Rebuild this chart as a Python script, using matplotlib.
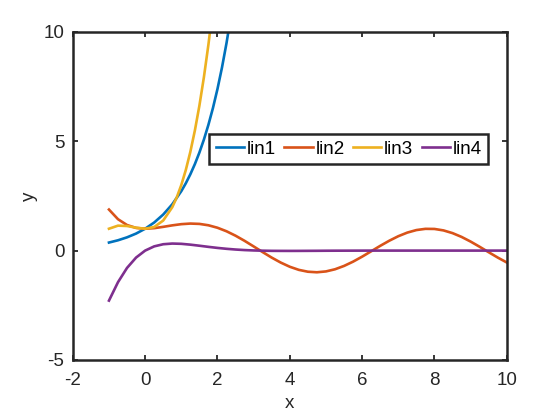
import matplotlib
matplotlib.use("Agg")
import matplotlib.pyplot as plt

plt.rcParams['font.family'] = ['Liberation Sans', 'DejaVu Sans']

# lin1 samples
x1 = [-1, -0.75, -0.5, -0.25, 0, 0.25, 0.5, 0.75, 1, 1.125, 1.25, 1.375, 1.5,
      1.625, 1.75, 1.875, 2, 2.125, 2.25, 2.375, 2.5]
y1 = [0.368, 0.472, 0.607, 0.779, 1.0, 1.284, 1.649, 2.117, 2.718, 3.080, 3.490,
      3.955, 4.482, 5.078, 5.755, 6.521, 7.389, 8.373, 9.488, 10.751, 12.182]

# lin3 samples
x3 = [-1, -0.75, -0.5, -0.25, 0, 0.25, 0.5, 0.75, 0.875, 1, 1.125, 1.25, 1.375,
      1.5, 1.625, 1.75, 1.875, 2]
y3 = [1.0, 1.141, 1.125, 1.047, 1.0, 1.078, 1.375, 1.984, 2.436, 3.0, 3.689,
      4.516, 5.490, 6.625, 7.931, 9.422, 11.107, 13.0]

# lin2 / lin4 samples
x24 = [-1, -0.75, -0.5, -0.25, 0, 0.25, 0.5, 0.75, 1, 1.25, 1.5, 1.75, 2, 2.25,
       2.5, 2.75, 3, 3.25, 3.5, 3.75, 4, 4.25, 4.5, 4.75, 5, 5.25, 5.5, 5.75, 6,
       6.25, 6.5, 6.75, 7, 7.25, 7.5, 7.75, 8, 8.25, 8.5, 8.75, 9, 9.25, 9.5,
       9.75, 10]
y2 = [1.877, 1.435, 1.169, 1.037, 1.0, 1.026, 1.086, 1.154, 1.209, 1.236, 1.221,
      1.158, 1.045, 0.884, 0.681, 0.446, 0.191, -0.069, -0.321, -0.548, -0.739,
      -0.881, -0.966, -0.991, -0.952, -0.854, -0.701, -0.505, -0.277, -0.031,
      0.217, 0.451, 0.658, 0.824, 0.939, 0.995, 0.990, 0.923, 0.799, 0.625,
      0.412, 0.174, -0.075, -0.319, -0.544]
y4 = [-2.287, -1.443, -0.790, -0.318, 0.0, 0.193, 0.291, 0.322, 0.310, 0.272,
      0.223, 0.171, 0.123, 0.082, 0.049, 0.024, 0.007, -0.004, -0.011, -0.013,
      -0.014, -0.013, -0.011, -0.009, -0.006, -0.004, -0.003, -0.002, -0.001,
      0, 0, 0, 0, 0, 0, 0, 0, 0, 0, 0, 0, 0, 0, 0, 0]

names = ['lin1', 'lin2', 'lin3', 'lin4']
colors = ['#0072BD', '#D95319', '#EDB120', '#7E2F8E']
xticks = [-2, 0, 2, 4, 6, 8, 10]
yticks = [-5, 0, 5, 10]

fig = plt.figure(figsize=(5.6, 4.2), dpi=100)
ax = fig.add_axes([0.13, 0.143, 0.775, 0.781])
ax.plot(x1, y1, color=colors[0], lw=1.9, label=names[0])
ax.plot(x24, y2, color=colors[1], lw=1.9, label=names[1])
ax.plot(x3, y3, color=colors[2], lw=1.9, label=names[2])
ax.plot(x24, y4, color=colors[3], lw=1.9, label=names[3])

ax.set_xlim(-2, 10)
ax.set_ylim(-5, 10)
ax.set_xticks(xticks)
ax.set_yticks(yticks)
ax.set_xticklabels([str(t) for t in xticks])
ax.set_yticklabels([str(t) for t in yticks])
ax.tick_params(direction='in', top=True, right=True, length=3.5, width=1.3,
               colors='#262626', labelsize=13.5, labelcolor='#262626')
ax.tick_params(axis='x', pad=9)
ax.tick_params(axis='y', pad=6)
for s in ax.spines.values():
    s.set_color('#262626')
    s.set_linewidth(1.8)
ax.set_xlabel('x', fontsize=13.5, color='#262626', labelpad=4)
ax.set_ylabel('y', fontsize=13.5, color='#262626', labelpad=4)

leg = ax.legend(loc='center', bbox_to_anchor=(0.636, 0.643), ncol=4,
                fontsize=13.5, handlelength=1.5, handletextpad=0.15,
                columnspacing=0.45, borderpad=0.36, fancybox=False,
                framealpha=1, borderaxespad=0)
leg.get_frame().set_edgecolor('#262626')
leg.get_frame().set_linewidth(1.8)

fig.savefig('out.png', dpi=100)
